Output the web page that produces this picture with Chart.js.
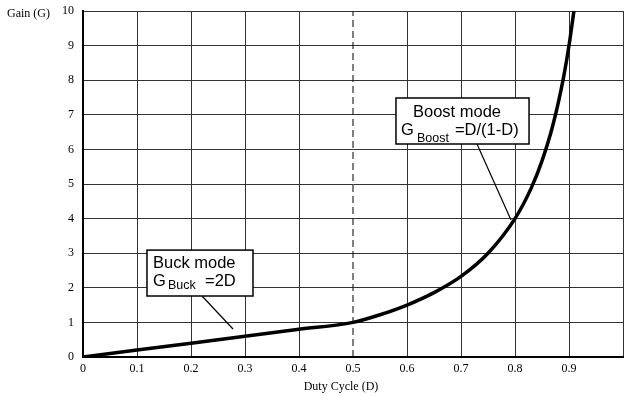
<!DOCTYPE html>
<html>
<head>
<meta charset="utf-8">
<script src="https://cdn.jsdelivr.net/npm/chart.js@4"></script>
<style>
  body { margin: 0; background: #fff; }
  canvas { display: block; }
</style>
</head>
<body>
<canvas id="gainChart" width="625" height="397"></canvas>
<script>
// Valores
const dutyCycle = [0, 0.1, 0.2, 0.3, 0.4, 0.5, 0.55, 0.6, 0.65, 0.7, 0.75, 0.8, 0.83, 0.85, 0.87, 0.89, 0.9, 0.91];
const gain      = [0, 0.2, 0.4, 0.6, 0.8, 1.0, 1.22, 1.5, 1.86, 2.33, 3.0, 4.0, 4.88, 5.67, 6.69, 8.09, 9.0, 10.1];
const dividerD = [0.5, 0.5];
const dividerG = [0, 10];
const xTicks = [0, 0.1, 0.2, 0.3, 0.4, 0.5, 0.6, 0.7, 0.8, 0.9];

// Caixas de anotação (em unidades do gráfico) e deslocamentos do texto
const notes = [
    { title: 'Buck mode', sub: 'Buck', formula: '=2D',
      box: [0.1185, 3.09, 0.3148, 1.763], lead: [0.2204, 1.763, 0.2778, 0.809],
      txt: { title: [6, 18], g: [6, 36], sub: [21, 39], formula: [58, 36] } },
    { title: 'Boost mode', sub: 'Boost', formula: '=D/(1-D)',
      box: [0.5796, 7.486, 0.826, 6.156], lead: [0.7296, 6.156, 0.7926, 3.96],
      txt: { title: [17, 19], g: [5, 37], sub: [21, 44], formula: [59, 37] } }
];

const serif = '"Liberation Serif", "Times New Roman", serif';
const sans = '"Liberation Sans", Arial, sans-serif';

const notesPlugin = {
    id: 'notes',
    afterDatasetsDraw(chart) {
        const ctx = chart.ctx;
        const xs = chart.scales.x, ys = chart.scales.y;
        ctx.save();
        notes.forEach(n => {
            const l = xs.getPixelForValue(n.box[0]), t = ys.getPixelForValue(n.box[1]);
            const r = xs.getPixelForValue(n.box[2]), b = ys.getPixelForValue(n.box[3]);
            // linha de chamada
            ctx.strokeStyle = '#000';
            ctx.lineWidth = 1.2;
            ctx.beginPath();
            ctx.moveTo(xs.getPixelForValue(n.lead[0]), ys.getPixelForValue(n.lead[1]));
            ctx.lineTo(xs.getPixelForValue(n.lead[2]), ys.getPixelForValue(n.lead[3]));
            ctx.stroke();
            // caixa
            ctx.fillStyle = '#fff';
            ctx.fillRect(l, t, r - l, b - t);
            ctx.lineWidth = 1.5;
            ctx.strokeRect(l, t, r - l, b - t);
            // textos
            ctx.fillStyle = '#000';
            ctx.textBaseline = 'alphabetic';
            ctx.textAlign = 'left';
            ctx.font = '16.5px ' + sans;
            ctx.fillText(n.title, l + n.txt.title[0], t + n.txt.title[1]);
            ctx.fillText('G', l + n.txt.g[0], t + n.txt.g[1]);
            ctx.fillText(n.formula, l + n.txt.formula[0], t + n.txt.formula[1]);
            ctx.font = '12.5px ' + sans;
            ctx.fillText(n.sub, l + n.txt.sub[0], t + n.txt.sub[1]);
        });
        // títulos dos eixos
        ctx.font = '12px ' + serif;
        ctx.textAlign = 'left';
        ctx.fillText('Gain (G)', 7, 17);
        ctx.textAlign = 'center';
        ctx.fillText('Duty Cycle (D)', 341, 390);
        ctx.restore();
    }
};

const points = dutyCycle.map((d, i) => ({ x: d, y: gain[i] }));
const divider = dividerD.map((d, i) => ({ x: d, y: dividerG[i] }));

new Chart(document.getElementById('gainChart'), {
    type: 'line',
    data: {
        datasets: [
            {
                data: points,
                borderColor: '#000',
                borderWidth: 3.5,
                pointRadius: 0,
                cubicInterpolationMode: 'monotone',
                fill: false
            },
            {
                data: divider,
                borderColor: '#000',
                borderWidth: 1,
                borderDash: [7, 4],
                pointRadius: 0,
                fill: false
            }
        ]
    },
    options: {
        responsive: false,
        animation: false,
        layout: { padding: { left: 0, right: 2, top: 11, bottom: 0 } },
        plugins: {
            legend: { display: false },
            tooltip: { enabled: false }
        },
        scales: {
            x: {
                type: 'linear',
                min: 0,
                max: 1,
                afterFit: s => {
                    s.height = 40;
                    s.paddingLeft = 0;
                    s.paddingRight = 0;
                },
                afterBuildTicks: s => {
                    s.ticks = xTicks.concat([1]).map(v => ({ value: v }));
                },
                grid: {
                    // a linha 0.5 é a tracejada
                    color: c => (Math.abs(c.tick.value - 0.5) < 1e-6 ? 'rgba(0,0,0,0)' : '#333'),
                    lineWidth: 1,
                    drawTicks: false
                },
                border: { color: '#000', width: 2 },
                ticks: {
                    color: '#000',
                    font: { family: serif, size: 12 },
                    padding: 5,
                    autoSkip: false,
                    maxRotation: 0,
                    callback: v => (v >= 1 ? '' : String(Math.round(v * 10) / 10))
                }
            },
            y: {
                min: 0,
                max: 10,
                afterFit: s => {
                    s.width = 83;
                    s.paddingTop = 0;
                    s.paddingBottom = 0;
                },
                grid: { color: '#333', lineWidth: 1, drawTicks: false },
                border: { color: '#000', width: 2 },
                ticks: {
                    stepSize: 1,
                    color: '#000',
                    font: { family: serif, size: 12 },
                    padding: 9
                }
            }
        }
    },
    plugins: [notesPlugin]
});
</script>
</body>
</html>
